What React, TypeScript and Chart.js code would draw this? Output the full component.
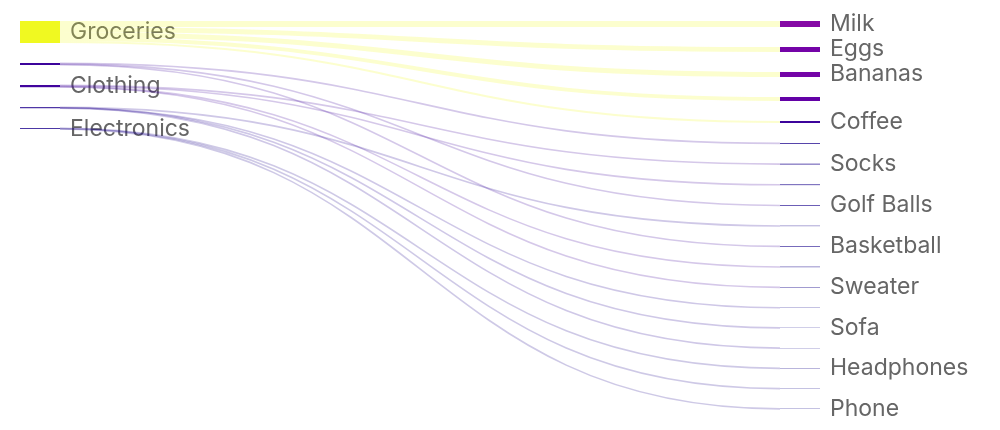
import React, { useEffect, useRef } from "react";
import { Chart, registerables } from "chart.js";

Chart.register(...registerables);

// ---- data ----
const leftNodes = ["Groceries", "L2", "Clothing", "L4", "Electronics"];
const leftLabels = ["Groceries", "", "Clothing", "", "Electronics"];
const rightNodes = [
  "Milk", "Eggs", "Bananas", "R4", "Coffee", "R6", "Socks", "R8", "Golf Balls", "R10",
  "Basketball", "R12", "Sweater", "R14", "Sofa", "R16", "Headphones", "R18", "Phone",
];
const rightLabels = [
  "Milk", "Eggs", "Bananas", "", "Coffee", "", "Socks", "", "Golf Balls", "",
  "Basketball", "", "Sweater", "", "Sofa", "", "Headphones", "", "Phone",
];
const linkSource = [
  "Groceries", "Groceries", "Groceries", "Groceries", "Groceries",
  "L2", "L2", "L2",
  "Clothing", "Clothing", "Clothing", "Clothing",
  "L4", "L4", "L4", "L4",
  "Electronics", "Electronics", "Electronics",
];
const linkTarget = [
  "Milk", "Eggs", "Bananas", "R4", "Coffee",
  "R6", "Golf Balls", "Basketball",
  "Socks", "R8", "R12", "Sweater",
  "R10", "R14", "Sofa", "R16",
  "Headphones", "R18", "Phone",
];
const linkValue = [
  6, 5, 5, 4, 2,
  0.75, 0.65, 0.6,
  0.7, 0.65, 0.45, 0.4,
  0.35, 0.25, 0.2, 0.2,
  0.3, 0.25, 0.25,
];

// ---- style ----
const NODE_PAD = 20; // in value units (1 unit ≈ 1px here)
const NODE_WIDTH = 40;
const LABEL_GAP = 10;
const LINK_ALPHA = 0.22;
const LINK_MIN_WIDTH = 1.6;
const LABEL_FONT = "23px Inter, 'DejaVu Sans', sans-serif";
const LABEL_COLOR = "#666666";

const PLASMA = [
  "#0d0887", "#41049d", "#6a00a8", "#8f0da4", "#b12a90", "#cc4778",
  "#e16462", "#f2844b", "#fca636", "#fcce25", "#f0f921",
];

function hexToRgb(h: string) {
  const n = parseInt(h.slice(1), 16);
  return [(n >> 16) & 255, (n >> 8) & 255, n & 255];
}
function plasma(t: number) {
  const c = Math.max(0, Math.min(1, t)) * (PLASMA.length - 1);
  const i = Math.min(PLASMA.length - 2, Math.floor(c));
  const f = c - i;
  const a = hexToRgb(PLASMA[i]);
  const b = hexToRgb(PLASMA[i + 1]);
  return [0, 1, 2].map((k) => Math.round(a[k] + (b[k] - a[k]) * f));
}

type NodeL = { id: string; label: string; col: number; value: number; y0: number; y1: number; outOff: number; inOff: number };

function layout() {
  const nodes: Record<string, NodeL> = {};
  const cols = [leftNodes, rightNodes];
  const labels = [leftLabels, rightLabels];
  cols.forEach((list, c) =>
    list.forEach((id, i) => {
      nodes[id] = { id, label: labels[c][i], col: c, value: 0, y0: 0, y1: 0, outOff: 0, inOff: 0 };
    })
  );
  const outSum: Record<string, number> = {};
  const inSum: Record<string, number> = {};
  linkValue.forEach((v, i) => {
    outSum[linkSource[i]] = (outSum[linkSource[i]] || 0) + v;
    inSum[linkTarget[i]] = (inSum[linkTarget[i]] || 0) + v;
  });
  Object.values(nodes).forEach((n) => {
    n.value = Math.max(outSum[n.id] || 0, inSum[n.id] || 0);
  });
  let total = 0;
  cols.forEach((list) => {
    let y = 0;
    list.forEach((id) => {
      const n = nodes[id];
      n.y0 = y;
      n.y1 = y + n.value;
      y = n.y1 + NODE_PAD;
    });
    total = Math.max(total, y - NODE_PAD);
  });
  const order = (id: string) => {
    const n = nodes[id];
    return (n.col === 0 ? leftNodes : rightNodes).indexOf(id);
  };
  const links = linkValue.map((v, i) => ({
    s: nodes[linkSource[i]],
    t: nodes[linkTarget[i]],
    v,
    sy: 0,
    ty: 0,
  }));
  [...links]
    .sort((a, b) => order(a.t.id) - order(b.t.id))
    .forEach((l) => {
      l.sy = l.s.y0 + l.s.outOff + l.v / 2;
      l.s.outOff += l.v;
    });
  [...links]
    .sort((a, b) => order(a.s.id) - order(b.s.id))
    .forEach((l) => {
      l.ty = l.t.y0 + l.t.inOff + l.v / 2;
      l.t.inOff += l.v;
    });
  const maxVal = Math.max(...Object.values(nodes).map((n) => n.value));
  return { nodes, links, total, maxVal };
}

const L = layout();

const sankeyPlugin = {
  id: "sankeyDraw",
  afterDatasetsDraw(chart: any) {
    const ctx: CanvasRenderingContext2D = chart.ctx;
    const xs = chart.scales.x;
    const ys = chart.scales.y;
    const colX = (c: number) => {
      const p = xs.getPixelForValue(c);
      return c === 0 ? [p, p + NODE_WIDTH] : [p - NODE_WIDTH, p];
    };
    const color = (n: NodeL) => plasma(n.value / L.maxVal);
    ctx.save();
    // labels
    ctx.font = LABEL_FONT;
    ctx.fillStyle = LABEL_COLOR;
    ctx.textAlign = "left";
    ctx.textBaseline = "middle";
    Object.values(L.nodes).forEach((n) => {
      if (!n.label) return;
      const [, x1] = colX(n.col);
      const yc = ys.getPixelForValue((n.y0 + n.y1) / 2);
      ctx.fillText(n.label, x1 + LABEL_GAP, yc);
    });
    // links
    L.links.forEach((l) => {
      const [, sx] = colX(l.s.col);
      const [tx] = colX(l.t.col);
      const y0 = ys.getPixelForValue(l.sy);
      const y1 = ys.getPixelForValue(l.ty);
      const w = Math.abs(ys.getPixelForValue(l.v) - ys.getPixelForValue(0));
      const xm = (sx + tx) / 2;
      const c = color(l.s);
      ctx.strokeStyle = `rgba(${c[0]},${c[1]},${c[2]},${LINK_ALPHA})`;
      ctx.lineWidth = Math.max(LINK_MIN_WIDTH, w);
      ctx.beginPath();
      ctx.moveTo(sx, y0);
      ctx.bezierCurveTo(xm, y0, xm, y1, tx, y1);
      ctx.stroke();
    });
    // nodes
    Object.values(L.nodes).forEach((n) => {
      const [x0, x1] = colX(n.col);
      const top = ys.getPixelForValue(n.y0);
      const bot = ys.getPixelForValue(n.y1);
      const c = color(n);
      ctx.fillStyle = `rgb(${c[0]},${c[1]},${c[2]})`;
      ctx.fillRect(x0, top, x1 - x0, bot - top);
    });
    ctx.restore();
  },
};

export default function App() {
  const ref = useRef<HTMLCanvasElement | null>(null);
  useEffect(() => {
    if (!ref.current) return;
    const pts = Object.values(L.nodes).map((n) => ({ x: n.col, y: (n.y0 + n.y1) / 2 }));
    const chart = new Chart(ref.current, {
      type: "scatter",
      data: { datasets: [{ data: pts, pointRadius: 0, pointHoverRadius: 0 }] },
      options: {
        animation: false,
        responsive: false,
        events: [],
        layout: { padding: { left: 12, right: 172, top: 13, bottom: 13 } },
        plugins: { legend: { display: false }, tooltip: { enabled: false } },
        scales: {
          x: { type: "linear", min: 0, max: 1, display: false },
          y: { type: "linear", min: 0, max: L.total, reverse: true, display: false },
        },
      },
      plugins: [sankeyPlugin],
    });
    return () => chart.destroy();
  }, []);
  return (
    <div style={{ width: 984, height: 414 }}>
      <canvas ref={ref} width={984} height={414} style={{ display: "block" }} />
    </div>
  );
}
